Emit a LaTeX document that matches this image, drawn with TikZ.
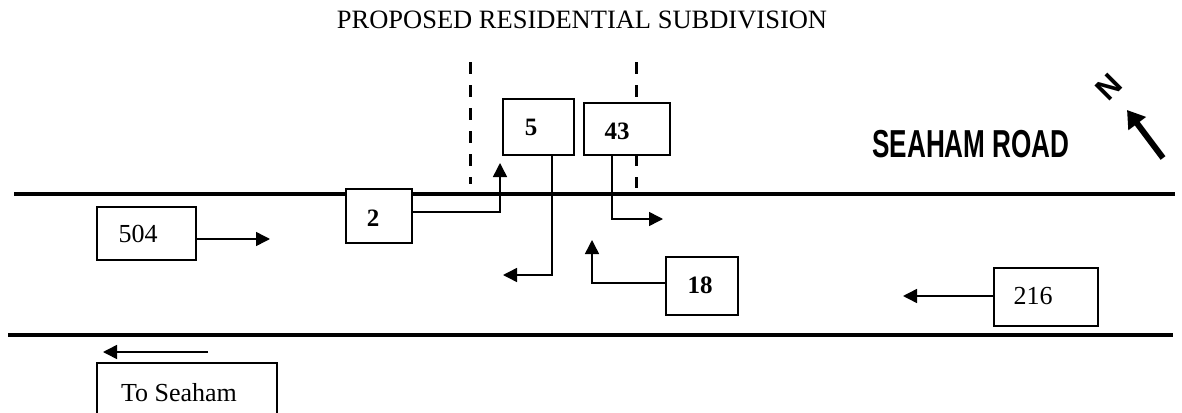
\documentclass[tikz,border=0pt]{standalone}
\usepackage{fontspec}
\setmainfont{Liberation Serif}
\newfontfamily\arialfont{Liberation Sans}
\usetikzlibrary{arrows.meta}
\begin{document}
\begin{tikzpicture}[x=1pt,y=-1pt,
  road/.style={line width=3.5pt},
  dashln/.style={line width=3pt, dash pattern=on 12pt off 11pt},
  box/.style={draw, line width=1.5pt, fill=white, inner sep=0pt},
  lbl/.style={inner sep=0pt, font=\fontsize{26}{30}\selectfont},
  blbl/.style={inner sep=0pt, font=\fontsize{25}{30}\selectfont\bfseries},
  arr/.style={line width=1.5pt, -{Triangle[length=14pt,width=14pt]}},
  link/.style={line width=1.5pt}]
\useasboundingbox (0,0) rectangle (1182,412);
\clip (0,0) rectangle (1182,412);

% title
\node[inner sep=0pt, font=\fontsize{26.5}{30}\selectfont] (title) at (582,19.5) {PROPOSED RESIDENTIAL SUBDIVISION};

% road edges
\draw[road] (14,194) -- (1175,194);
\draw[road] (8,335) -- (1173,335);

% dashed lines of the subdivision entrance
\draw[dashln] (470,62) -- (470,184);
\draw[dashln] (636,62) -- (636,188);

% road name and north arrow
\node[inner sep=0pt, xscale=0.67, font=\arialfont\bfseries\fontsize{39}{44}\selectfont] (roadname) at (971,144) {SEAHAM ROAD};
\node[inner sep=0pt, rotate=45, font=\arialfont\bfseries\fontsize{31}{36}\selectfont] (north) at (1109,87) {N};
\coordinate (na1) at (1163,158);
\coordinate (na2) at (1127,110);
\draw[line width=6pt, -{Triangle[length=17pt,width=21pt]}] (na1) -- (na2);

% boxes
\node[box, minimum width=99pt, minimum height=53pt] (b504) at (146.5,233.5) {};
\node[box, minimum width=180pt, minimum height=80pt] (bto) at (187,403) {};
\node[box, minimum width=66pt, minimum height=54pt] (b2) at (379,216) {};
\node[box, minimum width=71pt, minimum height=56pt] (b5) at (538.5,127) {};
\node[box, minimum width=86pt, minimum height=52pt] (b43) at (627,129) {};
\node[box, minimum width=72pt, minimum height=58pt] (b18) at (702,286) {};
\node[box, minimum width=104pt, minimum height=58pt] (b216) at (1046,297) {};

% labels
\node[lbl] (t504) at (138,234) {504};
\node[lbl] (tto) at (179,393) {To Seaham};
\node[lbl] (t216) at (1033,296) {216};
\node[blbl] (t2) at (373,218) {2};
\node[blbl] (t5) at (531,127) {5};
\node[blbl] (t43) at (617,131) {43};
\node[blbl] (t18) at (700,285) {18};

% connector end points
\coordinate (c504) at (270,239);
\coordinate (s1) at (208,352);
\coordinate (s2) at (103,352);
\coordinate (c2) at (500,163);
\coordinate (k5) at (552,275);
\coordinate (c5) at (503,275);
\coordinate (k43) at (612,219);
\coordinate (c43) at (663,219);
\coordinate (c18) at (592,240);
\coordinate (c216) at (903,296);

% connectors
\draw[arr] (b504.east |- c504) -- (c504);
\draw[arr] (s1) -- (s2);
\draw[arr] (b2.east |- 0,212) -| (c2);
\draw[arr] (b5.south -| k5) -- (k5) -- (c5);
\draw[arr] (b43.south -| k43) -- (k43) -- (c43);
\draw[arr] (b18.west |- 0,283) -| (c18);
\draw[arr] (b216.west |- c216) -- (c216);
\end{tikzpicture}
\end{document}
